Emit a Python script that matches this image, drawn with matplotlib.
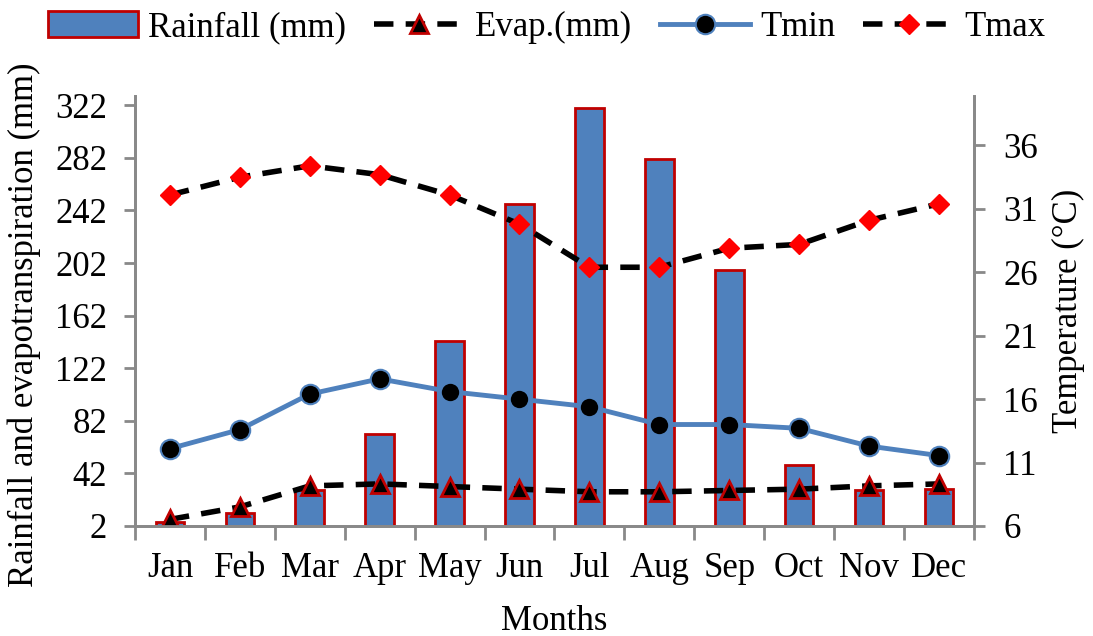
import matplotlib
matplotlib.use("Agg")
import matplotlib.pyplot as plt
import numpy as np

plt.rcParams['font.family'] = ['Liberation Serif', 'DejaVu Serif']

months = ['Jan', 'Feb', 'Mar', 'Apr', 'May', 'Jun', 'Jul', 'Aug', 'Sep', 'Oct', 'Nov', 'Dec']
rainfall = [5, 12, 29, 72, 143, 247, 320, 281, 197, 48, 29, 30]
evap = [7, 16.5, 32.5, 34, 32, 30, 28, 28, 29, 30, 32.5, 34]
tmin = [12.1, 13.6, 16.4, 17.6, 16.6, 16.0, 15.4, 14.0, 14.0, 13.7, 12.3, 11.55]
tmax = [32.1, 33.5, 34.4, 33.7, 32.1, 29.8, 26.4, 26.4, 27.9, 28.2, 30.1, 31.4]

left_ticks = [2, 42, 82, 122, 162, 202, 242, 282, 322]
right_ticks = [6, 11, 16, 21, 26, 31, 36]

x = np.arange(len(months))
grey = '#898989'
fs = 25

fig = plt.figure(figsize=(10.93, 6.36), dpi=100)
ax = fig.add_axes([0.1235, 0.173, 0.7675, 0.676])
ax2 = ax.twinx()

bars = ax.bar(x, rainfall, width=0.41, bottom=0, color='#4F81BD', edgecolor='#C00000',
              linewidth=2, zorder=2, label='Rainfall (mm)')
ev, = ax.plot(x, evap, color='black', lw=4, dashes=(3.5, 2.2), marker='^', markersize=13,
              markerfacecolor='black', markeredgecolor='#C00000', markeredgewidth=2,
              zorder=3, label='Evap.(mm)')
tn, = ax2.plot(x, tmin, color='#4F81BD', lw=3.5, marker='o', markersize=14,
               markerfacecolor='black', markeredgecolor='#4F81BD', markeredgewidth=1.5,
               label='Tmin')
tx, = ax2.plot(x, tmax, color='black', lw=4, dashes=(3.5, 2.2), marker='D', markersize=10,
               markerfacecolor='#FF0000', markeredgecolor='#FF0000', markeredgewidth=1,
               label='Tmax')

ax.set_xlim(-0.5, 11.5)
ax.set_ylim(2, 329)
ax2.set_ylim(6, 39.9)
ax.set_yticks(left_ticks)
ax2.set_yticks(right_ticks)
ax.set_xticks(x)
ax.set_xticklabels(months)
ax.set_xticks(np.arange(-0.5, 12, 1), minor=True)

for a in (ax, ax2):
    a.set_facecolor('none')
    a.spines['top'].set_visible(False)
    for s in ('left', 'right', 'bottom'):
        a.spines[s].set_color(grey)
        a.spines[s].set_linewidth(2)
    a.tick_params(axis='both', labelsize=fs, colors=grey, labelcolor='black',
                  width=2, length=8)
ax.tick_params(axis='x', which='major', length=0, pad=19)
ax.tick_params(axis='x', which='minor', length=10, width=2, color=grey)
ax.tick_params(axis='y', pad=12)
ax2.tick_params(axis='y', pad=13)
ax.set_zorder(ax2.get_zorder() - 1)
ax.patch.set_visible(False)

ax.set_xlabel('Months', fontsize=fs, labelpad=14)
ax.set_ylabel('Rainfall and evapotranspiration (mm)', fontsize=fs)
ax.yaxis.set_label_coords(-0.112, 0.467)
ax2.set_ylabel('Temperature (°C)', fontsize=fs, labelpad=10)

fig.legend(handles=[bars, ev, tn, tx], loc='upper center', bbox_to_anchor=(0.5, 1.032),
           ncol=4, frameon=False, fontsize=fs, handlelength=2.6, handletextpad=0.3,
           columnspacing=0.8, handleheight=0.8)

fig.savefig('out.png', dpi=100)
